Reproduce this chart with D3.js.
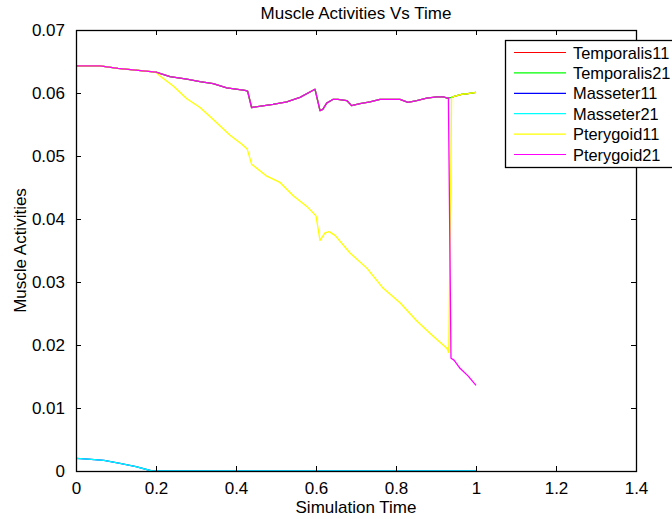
<!DOCTYPE html>
<html>
<head>
<meta charset="utf-8">
<script src="https://cdn.jsdelivr.net/npm/d3@7"></script>
<style>
  html, body { margin: 0; padding: 0; background: #fff; }
  svg { display: block; font-family: "Liberation Sans", Arial, sans-serif; }
</style>
</head>
<body>
<svg id="chart" width="672" height="519"></svg>
<script>
// Muscle activation traces over simulation time, one [time, activity] list per muscle.
const seriesNames = ["Temporalis11", "Temporalis21", "Masseter11", "Masseter21", "Pterygoid11", "Pterygoid21"];
const seriesColors = ["#ff0000", "#00ff00", "#0000ff", "#00ffff", "#ffff00", "#ff00ff"];

const temporalis11 = [
  [0, 0.0643], [0.06, 0.0643], [0.105, 0.0639], [0.2, 0.0633], [0.235, 0.0626], [0.277, 0.0622],
  [0.31, 0.0618], [0.343, 0.0615], [0.377, 0.0608], [0.4225, 0.0604], [0.429, 0.0603], [0.439, 0.0577],
  [0.4925, 0.0582], [0.527, 0.0586], [0.56, 0.0593], [0.5975, 0.0606], [0.61, 0.0572], [0.617, 0.0574],
  [0.6267, 0.0584], [0.643, 0.059], [0.655, 0.059], [0.677, 0.0588], [0.689, 0.058], [0.71, 0.0583],
  [0.735, 0.0586], [0.76, 0.059], [0.81, 0.059], [0.83, 0.0585], [0.852, 0.0588], [0.877, 0.0592],
  [0.902, 0.0594], [0.918, 0.0594], [0.928, 0.0592], [0.939, 0.0593], [0.9475, 0.0595],
  [0.964, 0.0598], [0.98, 0.0599], [1.0, 0.0601]
];
const temporalis21 = temporalis11.map(d => [d[0], d[1]]);

const masseter11 = [
  [0, 0.0020], [0.03, 0.0019], [0.07, 0.0017], [0.11, 0.0012], [0.15, 0.0007], [0.19, 0.0],
  [0.4, 0.0], [0.6, 0.0], [0.8, 0.0], [1.0, 0.0]
];
const masseter21 = masseter11.map(d => [d[0], d[1]]);

const pterygoid11 = [
  [0, 0.0643], [0.06, 0.0643], [0.105, 0.0639], [0.2, 0.0633], [0.21, 0.0627], [0.243, 0.0611],
  [0.277, 0.0591], [0.31, 0.0577], [0.343, 0.0558], [0.385, 0.0533], [0.414, 0.0519], [0.428, 0.0511],
  [0.439, 0.0487], [0.477, 0.0468], [0.51, 0.0458], [0.543, 0.0437], [0.577, 0.042], [0.6, 0.0405],
  [0.61, 0.0366], [0.6225, 0.0378], [0.633, 0.038], [0.6475, 0.0374], [0.685, 0.0346], [0.727, 0.0322],
  [0.768, 0.029], [0.81, 0.0267], [0.852, 0.0238], [0.893, 0.0214], [0.927, 0.0195], [0.932, 0.0188],
  [0.939, 0.0593], [0.9475, 0.0595], [0.964, 0.0598], [0.98, 0.0599], [1.0, 0.0601]
];

const pterygoid21 = [
  [0, 0.0643], [0.06, 0.0643], [0.105, 0.0639], [0.2, 0.0633], [0.235, 0.0626], [0.277, 0.0622],
  [0.31, 0.0618], [0.343, 0.0615], [0.377, 0.0608], [0.4225, 0.0604], [0.429, 0.0603], [0.439, 0.0577],
  [0.4925, 0.0582], [0.527, 0.0586], [0.56, 0.0593], [0.5975, 0.0606], [0.61, 0.0572], [0.617, 0.0574],
  [0.6267, 0.0584], [0.643, 0.059], [0.655, 0.059], [0.677, 0.0588], [0.689, 0.058], [0.71, 0.0583],
  [0.735, 0.0586], [0.76, 0.059], [0.81, 0.059], [0.83, 0.0585], [0.852, 0.0588], [0.877, 0.0592],
  [0.902, 0.0594], [0.918, 0.0594], [0.931, 0.0592], [0.9375, 0.0179], [0.945, 0.0176],
  [0.96, 0.0163], [0.98, 0.0151], [1.0, 0.0136]
];

const seriesData = [temporalis11, temporalis21, masseter11, masseter21, pterygoid11, pterygoid21];

const xTicks = [0, 0.2, 0.4, 0.6, 0.8, 1, 1.2, 1.4];
const yTicks = [0, 0.01, 0.02, 0.03, 0.04, 0.05, 0.06, 0.07];
const xTickLabels = ["0", "0.2", "0.4", "0.6", "0.8", "1", "1.2", "1.4"];
const yTickLabels = ["0", "0.01", "0.02", "0.03", "0.04", "0.05", "0.06", "0.07"];

const svg = d3.select("#chart");
const margin = { left: 76, top: 30, right: 36, bottom: 48 };
const W = 672, H = 519;
const plotW = W - margin.left - margin.right;
const plotH = H - margin.top - margin.bottom;
const fontSize = "17px";

const x = d3.scaleLinear().domain([0, 1.4]).range([margin.left, margin.left + plotW]);
const y = d3.scaleLinear().domain([0, 0.07]).range([margin.top + plotH, margin.top]);

// Plot area background
svg.append("rect")
  .attr("x", margin.left).attr("y", margin.top)
  .attr("width", plotW).attr("height", plotH)
  .attr("fill", "#fff");

// Data lines
const line = d3.line().x(d => x(d[0])).y(d => y(d[1]));
svg.append("g")
  .selectAll("path")
  .data(seriesData)
  .join("path")
  .attr("d", line)
  .attr("fill", "none")
  .attr("stroke", (d, i) => seriesColors[i])
  .attr("stroke-width", 1.3)
  .attr("stroke-linejoin", "round");

// Axes with inward ticks on all four sides
const tickLen = 5;
const axisStyle = g => {
  g.select(".domain").remove();
  g.selectAll(".tick line").attr("stroke", "#000");
  g.selectAll(".tick text").attr("fill", "#000").style("font-size", fontSize);
};

svg.append("g")
  .attr("transform", `translate(0,${margin.top + plotH})`)
  .call(d3.axisBottom(x).tickValues(xTicks).tickFormat((d, i) => xTickLabels[i])
    .tickSizeInner(-tickLen).tickSizeOuter(0).tickPadding(11))
  .call(axisStyle);

svg.append("g")
  .attr("transform", `translate(0,${margin.top})`)
  .call(d3.axisTop(x).tickValues(xTicks).tickFormat("").tickSizeInner(-tickLen).tickSizeOuter(0))
  .call(axisStyle);

svg.append("g")
  .attr("transform", `translate(${margin.left},0)`)
  .call(d3.axisLeft(y).tickValues(yTicks).tickFormat((d, i) => yTickLabels[i])
    .tickSizeInner(-tickLen).tickSizeOuter(0).tickPadding(11))
  .call(axisStyle);

svg.append("g")
  .attr("transform", `translate(${margin.left + plotW},0)`)
  .call(d3.axisRight(y).tickValues(yTicks).tickFormat("").tickSizeInner(-tickLen).tickSizeOuter(0))
  .call(axisStyle);

// Axes box
svg.append("rect")
  .attr("x", margin.left + 0.5).attr("y", margin.top + 0.5)
  .attr("width", plotW).attr("height", plotH)
  .attr("fill", "none").attr("stroke", "#000").attr("stroke-width", 1.3);

// Title and axis labels
svg.append("text")
  .attr("x", margin.left + plotW / 2).attr("y", 19)
  .attr("text-anchor", "middle").style("font-size", fontSize)
  .text("Muscle Activities Vs Time");

svg.append("text")
  .attr("x", margin.left + plotW / 2).attr("y", 513)
  .attr("text-anchor", "middle").style("font-size", fontSize)
  .text("Simulation Time");

svg.append("text")
  .attr("transform", `translate(26,${margin.top + plotH / 2}) rotate(-90)`)
  .attr("text-anchor", "middle").style("font-size", fontSize)
  .text("Muscle Activities");

// Legend (its right side runs past the figure edge)
const legend = svg.append("g").attr("transform", "translate(505,40)");
legend.append("rect")
  .attr("x", 0.5).attr("y", 0.5)
  .attr("width", 190).attr("height", 127)
  .attr("fill", "#fff").attr("stroke", "#000").attr("stroke-width", 1.3);

const rowGap = 20.4;
const items = legend.selectAll("g.item")
  .data(seriesNames)
  .join("g")
  .attr("class", "item")
  .attr("transform", (d, i) => `translate(0,${12.5 + i * rowGap})`);

items.append("line")
  .attr("x1", 9).attr("x2", 61)
  .attr("y1", 0).attr("y2", 0)
  .attr("stroke", (d, i) => seriesColors[i])
  .attr("stroke-width", 1.2);

items.append("text")
  .attr("x", 68).attr("y", 6)
  .style("font-size", "16.4px")
  .text(d => d);
</script>
</body>
</html>
